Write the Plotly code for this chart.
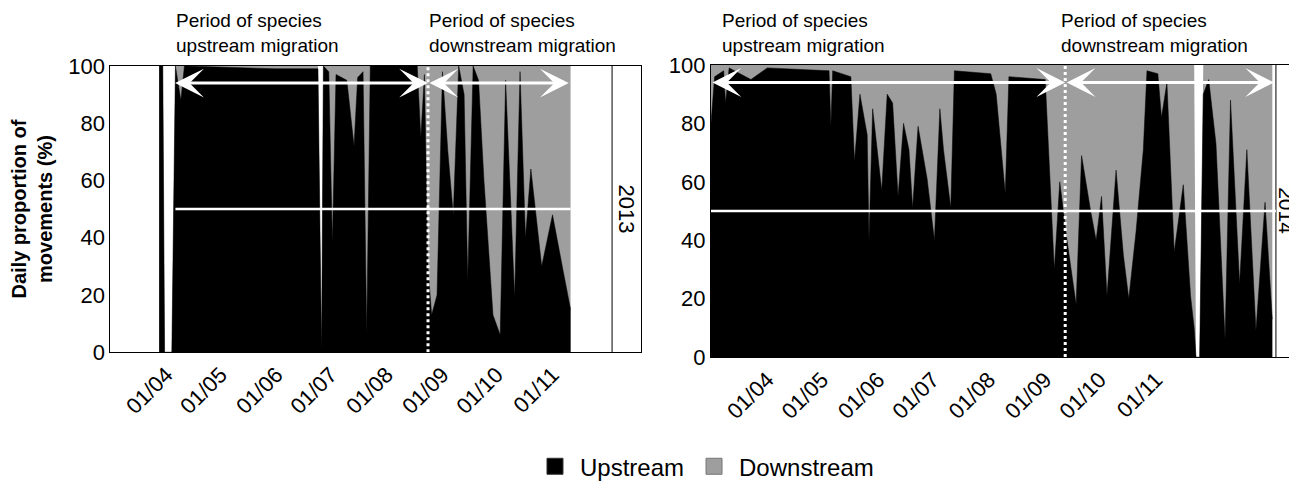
import plotly.graph_objs as go

# daily proportion of upstream movements (%), read at breakpoints; None = no data
dates_2013 = ['2013-03-28', '2013-03-30', '2013-03-31', '2013-04-04', '2013-04-06', '2013-04-09',
              '2013-04-11', '2013-05-31', '2013-06-24', '2013-06-26', '2013-06-27', '2013-06-30',
              '2013-07-02', '2013-07-04', '2013-07-10', '2013-07-14', '2013-07-16', '2013-07-19',
              '2013-07-21', '2013-07-23', '2013-08-18', '2013-08-20', '2013-08-22', '2013-08-24',
              '2013-08-26', '2013-08-29', '2013-09-01', '2013-09-04', '2013-09-07', '2013-09-10',
              '2013-09-13', '2013-09-15', '2013-09-18', '2013-09-21', '2013-09-24', '2013-09-29',
              '2013-10-03', '2013-10-06', '2013-10-11', '2013-10-14', '2013-10-17', '2013-10-20',
              '2013-10-26', '2013-11-01', '2013-11-07', '2013-11-11']
upstream_2013 = [100, 100, None, None, 100, 88,
                 100, 99, 99, None, 100, 98,
                 38, 97, 95, 72, 96, 98,
                 6, 100, 100, 75, 97, 30,
                 13, 20, 98, 70, 48, 100,
                 90, 25, 100, 95, 60, 13,
                 6, 95, 19, 98, 40, 64,
                 30, 48, 28, 15]

dates_2014 = ['2014-03-01', '2014-03-03', '2014-03-08', '2014-03-09', '2014-03-11', '2014-03-23',
              '2014-04-01', '2014-05-05', '2014-05-06', '2014-05-07', '2014-05-17', '2014-05-19',
              '2014-05-22', '2014-05-26', '2014-05-27', '2014-05-29', '2014-06-03', '2014-06-06',
              '2014-06-09', '2014-06-12', '2014-06-15', '2014-06-18', '2014-06-20', '2014-06-23',
              '2014-06-28', '2014-07-02', '2014-07-05', '2014-07-07', '2014-07-11', '2014-07-13',
              '2014-08-02', '2014-08-05', '2014-08-10', '2014-08-12', '2014-09-01', '2014-09-06',
              '2014-09-09', '2014-09-13', '2014-09-18', '2014-09-21', '2014-09-26', '2014-09-29',
              '2014-10-02', '2014-10-05', '2014-10-10', '2014-10-14', '2014-10-17', '2014-10-21',
              '2014-10-25', '2014-10-27', '2014-11-02', '2014-11-04', '2014-11-07', '2014-11-11',
              '2014-11-16', '2014-11-20', '2014-11-22', '2014-11-23', '2014-11-25', '2014-11-27',
              '2014-11-30', '2014-12-04', '2014-12-09', '2014-12-12', '2014-12-17', '2014-12-21',
              '2014-12-26', '2014-12-31', '2015-01-04']
upstream_2014 = [80, 96, 98, 87, 99, 95,
                 99, 98, 79, 98, 96, 67,
                 90, 76, 40, 85, 57, 90,
                 87, 55, 80, 71, 51, 79,
                 61, 40, 85, 71, 51, 98,
                 97, 90, 56, 96, 95, 30,
                 60, 40, 18, 69, 50, 40,
                 55, 21, 64, 35, 20, 43,
                 71, 98, 97, 82, 94, 36,
                 59, 21, 10, None, None, 90,
                 95, 73, 6, 88, 25, 71,
                 9, 53, 13]

month_ticks_2013 = ['2013-04-01', '2013-05-01', '2013-06-01', '2013-07-01',
                    '2013-08-01', '2013-09-01', '2013-10-01', '2013-11-01']
month_ticks_2014 = ['2014-04-01', '2014-05-01', '2014-06-01', '2014-07-01',
                    '2014-08-01', '2014-09-01', '2014-10-01', '2014-11-01']
month_labels = ['01/04', '01/05', '01/06', '01/07', '01/08', '01/09', '01/10', '01/11']

UP = '#000000'
DOWN = '#9e9e9e'
FONT = 'Liberation Sans, Arial, sans-serif'


def add_panel(fig, dates, ups, xa, ya):
    # days without data drop both areas to zero so a white gap shows
    full = [0 if v is None else 100 for v in ups]
    up = [0 if v is None else v for v in ups]
    fig.add_trace(go.Scatter(x=dates, y=full, fill='tozeroy', mode='lines',
                             line=dict(width=0), fillcolor=DOWN, showlegend=False,
                             xaxis=xa, yaxis=ya))
    fig.add_trace(go.Scatter(x=dates, y=up, fill='tozeroy', mode='lines',
                             line=dict(width=0.5, color=UP), fillcolor=UP, showlegend=False,
                             xaxis=xa, yaxis=ya))


fig = go.Figure()
add_panel(fig, dates_2013, upstream_2013, 'x', 'y')
add_panel(fig, dates_2014, upstream_2014, 'x2', 'y2')

# legend entries as square swatches
for name, col, edge in [('Upstream', UP, '#333333'), ('Downstream', DOWN, '#777777')]:
    fig.add_trace(go.Scatter(x=[None], y=[None], mode='markers', name=name,
                             marker=dict(symbol='square', size=26, color=col,
                                         line=dict(color=edge, width=1))))

axis_common = dict(showgrid=False, zeroline=False, showline=True, linecolor='black',
                   linewidth=1, mirror=True, ticks='', automargin=False,
                   tickfont=dict(family=FONT, size=22, color='black'))

fig.update_layout(
    width=1297, height=491,
    paper_bgcolor='white', plot_bgcolor='white',
    margin=dict(l=0, r=0, t=0, b=0),
    font=dict(family=FONT, color='black'),
    xaxis=dict(axis_common, domain=[0.079, 0.488], range=['2013-03-01', '2013-12-20'],
               tickvals=month_ticks_2013, ticktext=month_labels, tickangle=-45),
    yaxis=dict(axis_common, domain=[0.299, 0.882], range=[0, 100], tickvals=[0, 20, 40, 60, 80, 100],
               title=dict(text='<b>Daily proportion of<br>movements (%)</b>',
                          font=dict(size=20, family=FONT), standoff=12)),
    xaxis2=dict(axis_common, domain=[0.542, 1.0], range=['2014-03-01', '2015-01-22'],
                tickvals=month_ticks_2014, ticktext=month_labels, tickangle=-45, anchor='y2'),
    yaxis2=dict(axis_common, domain=[0.289, 0.884], range=[0, 100],
                tickvals=[0, 20, 40, 60, 80, 100], anchor='x2'),
    legend=dict(orientation='h', x=0.537, xanchor='center', y=0.02, yanchor='bottom',
                font=dict(size=24, family=FONT), itemwidth=40),
)

# year boxes, 50 % lines and period separators
shapes = []
for xa, ya, sep, x0, x1, mid in [('x', 'y', '2013-12-04', '2013-04-06', '2013-11-11', '2013-08-24'),
                                 ('x2', 'y2', '2015-01-06', '2014-03-01', '2015-01-06', '2014-09-12')]:
    shapes.append(dict(type='line', xref=xa, yref=ya + ' domain', x0=sep, x1=sep, y0=0, y1=1,
                       line=dict(color='black', width=1)))
    shapes.append(dict(type='line', xref=xa, yref=ya, x0=x0, x1=x1, y0=50, y1=50,
                       line=dict(color='white', width=2.5)))
    shapes.append(dict(type='line', xref=xa, yref=ya, x0=mid, x1=mid, y0=0, y1=100,
                       line=dict(color='white', width=3, dash='dot')))
fig.update_layout(shapes=shapes)

annotations = [
    dict(text='2013', xref='x', yref='y', x='2013-12-12', y=50, showarrow=False, textangle=90,
         font=dict(size=22)),
    dict(text='2014', xref='x2', yref='y2', x='2015-01-12', y=50, showarrow=False, textangle=90,
         font=dict(size=21)),
    dict(text='Period of species<br>upstream migration', xref='paper', yref='paper',
         x=0.128, y=1.0, xanchor='left', yanchor='top', showarrow=False, align='left',
         font=dict(size=19)),
    dict(text='Period of species<br>downstream migration', xref='paper', yref='paper',
         x=0.323, y=1.0, xanchor='left', yanchor='top', showarrow=False, align='left',
         font=dict(size=19)),
    dict(text='Period of species<br>upstream migration', xref='paper', yref='paper',
         x=0.549, y=1.0, xanchor='left', yanchor='top', showarrow=False, align='left',
         font=dict(size=19)),
    dict(text='Period of species<br>downstream migration', xref='paper', yref='paper',
         x=0.810, y=1.0, xanchor='left', yanchor='top', showarrow=False, align='left',
         font=dict(size=19)),
]
# double-headed period arrows
for xa, ya, a, b in [('x', 'y', '2013-04-05', '2013-08-24'), ('x', 'y', '2013-08-24', '2013-11-10'),
                     ('x2', 'y2', '2014-03-01', '2014-09-12'), ('x2', 'y2', '2014-09-12', '2015-01-05')]:
    annotations.append(dict(xref=xa, yref=ya, x=b, y=94, ax=a, ay=94, axref=xa, ayref=ya,
                            text='', showarrow=True, arrowhead=3, startarrowhead=3,
                            arrowside='end+start', arrowsize=1.6, startarrowsize=1.6,
                            arrowwidth=3, arrowcolor='white'))
fig.update_layout(annotations=annotations)

fig.write_html('out.html')
